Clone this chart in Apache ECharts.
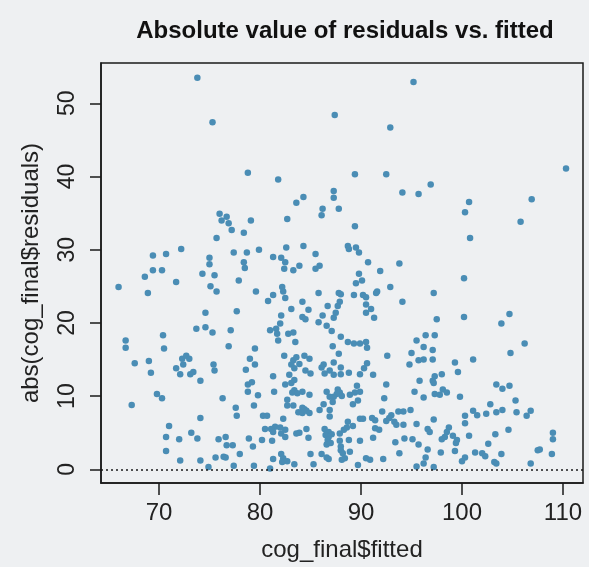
<!DOCTYPE html>
<html>
<head>
<meta charset="utf-8">
<script src="https://cdn.jsdelivr.net/npm/echarts@6/dist/echarts.min.js"></script>
<style>
html,body{margin:0;padding:0;background:#eef0f2;}
#chart{width:589px;height:567px;}
</style>
</head>
<body>
<div id="chart"></div>
<script>
// Tick labels
const xTicks = [70, 80, 90, 100, 110];
const yTicks = [0, 10, 20, 30, 40, 50];

// [fitted, abs(residual)] pairs, grouped by region
const pointsTop = [
  [73.8,53.5],[75.3,47.4],[78.8,40.5],
  [95.2,52.9],[87.4,48.4],[92.9,46.7],[81.8,39.6],[89.4,40.3],[92.5,40.3],[87.3,38.0],[87.3,37.1],[84.3,37.2],[83.6,36.4],[94.1,37.8],[95.7,37.6],
  [110.3,41.1],[96.9,38.9],[100.7,36.5],[106.9,36.9]
];
const pointsMidLeft = [
  [76.0,34.9],[76.7,34.5],[76.2,34.0],[76.9,33.6],[79.1,34.0],[77.2,32.7],[78.4,32.3],[75.7,31.6],[72.2,30.1],[69.4,29.2],[70.7,29.4],[75.0,28.9],[77.4,29.6],[78.7,29.6],[79.9,30.0],[75.0,28.0],[78.4,28.3],[69.4,27.2],[70.3,27.2],[78.5,27.5],[74.3,26.7],[75.5,26.5],[68.6,26.3],[71.7,25.6],[77.9,25.8],[75.1,25.0],[75.7,24.3],[66.0,24.9],[68.9,24.1],[79.6,24.3],[74.6,21.4],[77.7,21.6],[73.7,19.2],[74.6,19.4],[75.3,18.7],[77.1,19.0],[70.4,18.3],[66.7,17.6],[66.7,16.6],[70.5,16.5],[76.9,16.8],[79.5,16.5]
];
const pointsMidCenter = [
  [86.2,35.6],[87.8,35.6],[86.1,34.7],[82.7,34.2],[89.4,33.2],[82.6,30.3],[84.3,30.5],[88.7,30.5],[89.5,30.3],[88.8,30.1],[89.8,29.6],[81.3,29.0],[82.1,28.9],[85.5,29.4],[82.5,28.3],[90.7,28.3],[93.8,28.1],[82.4,27.4],[83.3,27.2],[83.9,27.8],[85.5,27.4],[85.9,27.8],[91.9,27.1],[89.8,26.7],[90.1,25.8],[89.5,25.4],[92.9,24.9],[82.2,24.9],[82.3,24.3],[81.3,23.8],[82.5,23.4],[80.8,23.0],[85.8,24.1],[87.8,24.1],[88.0,23.9],[89.3,23.8],[90.2,23.8],[90.5,23.5],[91.6,24.3],[91.5,24.1],[87.9,22.9],[94.1,22.9],[84.2,22.9],[86.7,22.3],[87.7,22.3],[90.5,22.5],[83.1,21.9],[84.8,21.8],[87.5,21.4],[91.0,21.9],[90.5,21.4],[82.1,21.0],[84.2,20.8],[86.2,21.0],[84.5,20.5],[87.3,20.7],[91.3,20.7],[85.8,20.1],[82.0,19.9],[86.6,19.6],[81.0,19.0],[81.6,19.2],[81.7,18.5],[82.8,18.5],[83.3,18.7],[87.1,18.9],[81.8,17.6],[83.5,17.4],[88.0,18.1],[88.7,17.4],[89.3,17.2],[89.9,17.2],[90.5,17.4],[87.2,16.8],[90.6,16.6],[95.5,17.6]
];
const pointsMidRight = [
  [100.3,35.1],[105.8,33.8],[100.8,31.6],[100.2,26.1],[97.2,24.1],[104.7,21.2],[100.2,20.8],[97.5,20.5],[103.9,19.9],[96.4,18.3],[97.3,18.3],[106.2,17.2],[96.2,16.7],[97.1,16.3]
];
const pointsLowLeft = [
  [67.6,14.5],[69.0,14.8],[69.2,13.2],[72.3,15.1],[72.7,15.5],[73.0,15.1],[72.4,14.3],[71.7,13.8],[72.1,13.0],[73.1,13.0],[73.4,13.3],[74.1,12.1],[75.4,14.3],[75.5,13.5],[69.8,10.3],[70.3,9.7],[67.3,8.8],[76.3,9.7],[77.6,8.4],[77.7,7.3],[74.1,7.0],[71.0,5.9],[73.2,5.0],[70.7,4.4],[72.0,4.1],[73.8,4.2],[75.9,4.1],[76.6,4.4],[76.7,3.3],[77.3,3.3],[70.7,2.5],[72.1,1.2],[74.1,1.2],[75.6,1.6],[76.4,1.7],[76.6,1.6],[78.0,2.1],[74.9,0.3],[77.4,0.5],[79.4,0.5],[78.9,4.2],[79.3,3.1],[79.0,15.1],[79.5,14.3],[78.6,13.6],[78.8,11.6],[79.2,11.9],[78.8,10.6],[79.8,10.1],[79.4,8.7]
];
const pointsLowCenter = [
  [82.4,15.5],[83.3,14.9],[83.6,15.3],[84.4,15.5],[84.9,15.1],[83.9,14.4],[83.1,14.3],[83.4,13.8],[87.8,15.8],[92.6,15.5],[95.0,15.9],[86.3,14.3],[86.1,13.9],[87.3,14.6],[88.0,13.9],[86.9,13.5],[86.4,13.1],[87.3,12.9],[88.0,13.0],[88.8,13.2],[89.9,13.0],[90.6,14.5],[90.3,13.8],[91.2,12.9],[94.8,14.3],[95.7,14.9],[84.5,13.5],[85.0,13.1],[82.9,12.9],[81.3,12.7],[83.1,11.8],[82.5,11.6],[83.4,12.2],[92.5,11.6],[89.6,11.4],[89.9,10.6],[81.4,10.6],[83.4,10.8],[83.2,10.5],[83.7,10.4],[84.2,10.6],[84.9,10.2],[86.6,10.6],[86.9,9.9],[87.7,10.9],[87.9,10.5],[88.1,10.0],[87.6,10.3],[87.3,9.9],[87.2,9.2],[88.9,10.2],[89.4,10.5],[89.7,9.4],[89.2,8.9],[95.3,10.6],[92.3,9.7],[82.7,9.5],[82.7,8.7],[83.3,8.7],[86.3,8.9],[85.9,8.1],[86.9,8.1],[84.2,8.4],[84.4,8.2],[83.8,7.8],[84.2,7.7],[84.6,8.0],[84.9,7.7],[86.9,7.2],[92.1,7.9],[93.0,7.4],[92.8,7.0],[93.7,7.9],[94.2,7.9],[94.9,8.1],[80.3,7.3],[80.7,7.3],[82.3,6.9],[89.9,6.9],[90.2,6.9],[91.1,7.0],[91.4,6.7],[92.5,6.6],[93.3,6.5],[93.5,6.1],[94.2,6.1],[95.5,6.2],[81.5,5.8],[81.1,5.5],[80.5,5.5],[82.5,5.4],[82.0,5.7],[81.3,5.1],[82.1,4.9],[82.5,4.4],[83.6,4.9],[84.6,5.5],[86.4,5.5],[86.8,5.1],[87.1,4.8],[86.5,4.7],[86.8,4.4],[87.9,4.9],[88.3,5.4],[88.6,5.7],[88.7,6.5],[89.2,5.9],[91.4,5.6],[91.8,5.4],[83.9,5.0],[80.2,4.0],[81.2,3.9],[84.8,4.3],[86.7,4.0],[87.9,3.9],[88.8,4.0],[89.9,3.9],[91.2,4.3],[93.4,3.7],[94.3,4.2],[95.1,4.1],[95.7,3.4],[86.6,3.4],[87.0,3.6],[88.0,3.1],[88.0,2.6],[88.2,2.2],[88.9,2.4],[88.4,1.5],[88.1,1.3],[81.3,1.4],[82.1,2.1],[82.3,1.5],[82.2,1.0],[82.7,1.1],[83.4,0.7],[85.0,2.1],[86.1,2.1],[85.3,0.7],[86.6,1.6],[86.8,1.4],[90.5,1.5],[90.9,1.3],[92.2,1.4],[93.8,2.2],[95.5,0.4],[89.7,0.6],[81.0,0.1]
];
const pointsLowRight = [
  [96.2,15.0],[97.1,15.0],[99.3,14.6],[101.1,15.0],[99.6,13.3],[104.8,15.9],[97.3,12.7],[98.0,13.0],[97.1,12.1],[97.2,11.8],[95.8,12.1],[103.4,11.6],[104.0,11.0],[104.7,11.4],[97.3,10.3],[97.8,10.2],[98.1,10.9],[98.5,10.5],[96.2,9.8],[99.8,9.9],[105.3,9.4],[102.8,8.9],[101.1,8.0],[101.5,7.4],[102.4,7.6],[103.4,7.8],[104.0,8.1],[105.4,7.8],[106.4,7.3],[106.8,8.0],[100.3,7.3],[100.3,6.3],[97.2,6.8],[104.6,5.4],[96.6,5.5],[96.8,5.1],[98.7,5.7],[98.5,5.1],[98.0,4.1],[98.3,4.4],[99.1,4.6],[99.5,4.0],[99.4,3.6],[100.7,4.6],[103.3,4.8],[102.6,3.5],[109.0,5.0],[109.0,4.1],[96.6,2.7],[97.9,2.3],[99.3,2.5],[101.3,2.3],[102.0,2.2],[102.3,1.8],[103.9,2.1],[107.5,2.6],[107.7,2.7],[108.9,2.1],[96.4,1.6],[96.2,0.8],[100.3,1.6],[100.0,1.1],[103.2,1.0],[103.4,0.8],[106.8,0.8],[97.2,0.3]
];

const allPoints = [].concat(pointsTop, pointsMidLeft, pointsMidCenter, pointsMidRight,
                            pointsLowLeft, pointsLowCenter, pointsLowRight);

const FONT = 'Liberation Sans, Arial, Helvetica, sans-serif';
const INK = '#1a1a1a';

const chart = echarts.init(document.getElementById('chart'), null, {renderer: 'canvas'});
chart.setOption({
  animation: false,
  backgroundColor: '#eef0f2',
  title: {
    text: 'Absolute value of residuals vs. fitted',
    left: 340,
    top: 14,
    textAlign: 'center',
    textStyle: {fontFamily: FONT, fontWeight: 'bold', fontSize: 24, color: '#111'}
  },
  grid: {
    left: 101, right: 6, top: 63, bottom: 84,
    show: true, borderColor: INK, borderWidth: 1.5, backgroundColor: 'transparent'
  },
  xAxis: {
    type: 'value',
    min: 64.26, max: 111.98,
    splitLine: {show: false},
    axisLine: {show: true, onZero: false, lineStyle: {color: INK, width: 1.5}},
    axisTick: {show: true, customValues: xTicks, length: 12, lineStyle: {color: INK, width: 1.5}},
    axisLabel: {customValues: xTicks, fontSize: 24, color: '#222', margin: 18, fontFamily: FONT},
    name: 'cog_final$fitted',
    nameLocation: 'middle',
    nameGap: 55,
    nameTextStyle: {fontSize: 24, color: '#222', fontFamily: FONT}
  },
  yAxis: {
    type: 'value',
    min: -1.87, max: 55.5,
    splitLine: {show: false},
    axisLine: {show: true, onZero: false, lineStyle: {color: INK, width: 1.5}},
    axisTick: {show: true, customValues: yTicks, length: 11, lineStyle: {color: INK, width: 1.5}},
    axisLabel: {customValues: yTicks, fontSize: 23, color: '#222', margin: 22, rotate: 90, fontFamily: FONT},
    name: 'abs(cog_final$residuals)',
    nameLocation: 'middle',
    nameGap: 58,
    nameTextStyle: {fontSize: 24, color: '#222', fontFamily: FONT}
  },
  series: [{
    type: 'scatter',
    data: allPoints,
    symbolSize: 6.5,
    itemStyle: {color: '#4a8db5', opacity: 1},
    markLine: {
      silent: true,
      symbol: 'none',
      label: {show: false},
      lineStyle: {type: [2, 3], color: INK, width: 1.5},
      data: [{yAxis: 0}]
    }
  }]
});
</script>
</body>
</html>
